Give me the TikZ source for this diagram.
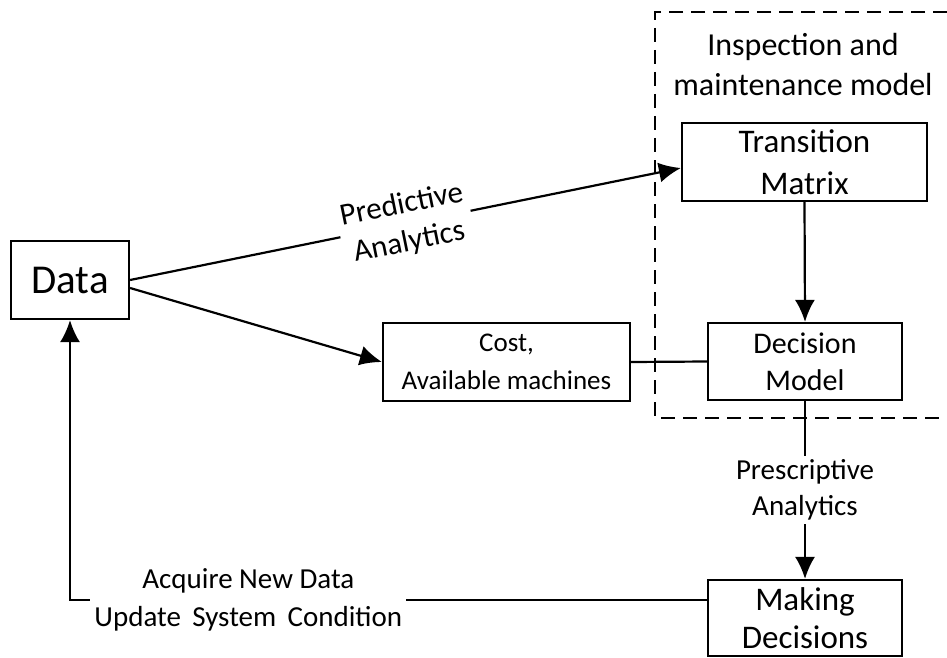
\documentclass[tikz,border=0pt]{standalone}
\usepackage{fontspec}
\setmainfont{Carlito}
\usetikzlibrary{arrows.meta}

\tikzset{
    box/.style={draw, line width=1.1pt, align=center, inner sep=2pt},
    lbl/.style={fill=white, align=center, inner sep=2pt}
}

\begin{document}
\begin{tikzpicture}[>={Latex[length=11pt,width=10pt]}, line width=1.1pt, x=0.5pt, y=-0.5pt]
                \useasboundingbox (0,0) rectangle (947,658);

                % Modelo de inspeccion
                \draw[dash pattern=on 7pt off 4pt] (947,12) -| (655,418) -- (947,418);
                \node[align=center, font=\fontsize{16}{20}\selectfont] (title) at (803,65)
                    {Inspection and\\maintenance model};
                \node[box, minimum width=122.5pt, minimum height=39pt,
                      font=\fontsize{16.5}{21}\selectfont] (tm) at (804.5,162) {Transition\\Matrix};
                \node[box, minimum width=97pt, minimum height=38.5pt,
                      font=\fontsize{15}{18.5}\selectfont] (dm) at (805,361.5) {Decision\\Model};

                % Datos y costes
                \node[box, minimum width=59pt, minimum height=39pt,
                      font=\fontsize{20.5}{24}\selectfont] (data) at (70,280) {Data};
                \node[box, minimum width=123.5pt, minimum height=39pt,
                      font=\fontsize{13.5}{19}\selectfont] (cost) at (506.5,362) {Cost,\\Available machines};
                \node[box, minimum width=97pt, minimum height=38pt,
                      font=\fontsize{16.5}{19}\selectfont] (md) at (805,618) {Making\\Decisions};
                \coordinate (turn) at (70,600);

                % Flechas
                \draw[->] (data.east) -- ([yshift=-3pt]tm.west)
                    node[lbl, midway, sloped, font=\fontsize{15.5}{19}\selectfont] {Predictive\\Analytics};
                \draw[->] ([yshift=-4pt]data.east) -- (cost.west);
                \draw (cost.east) -- (dm.west);
                \draw[->] (tm.south) -- (dm.north);
                \draw[->] (dm.south) -- (md.north)
                    node[lbl, midway, font=\fontsize{14.5}{18}\selectfont] {Prescriptive\\Analytics};
                \draw[->] ([yshift=9pt]md.west) -- (turn)
                    node[lbl, pos=0.72, font=\fontsize{14.5}{19}\selectfont] {Acquire New Data\\Update\, System\, Condition}
                    -- (data.south);

            \end{tikzpicture}
\end{document}
